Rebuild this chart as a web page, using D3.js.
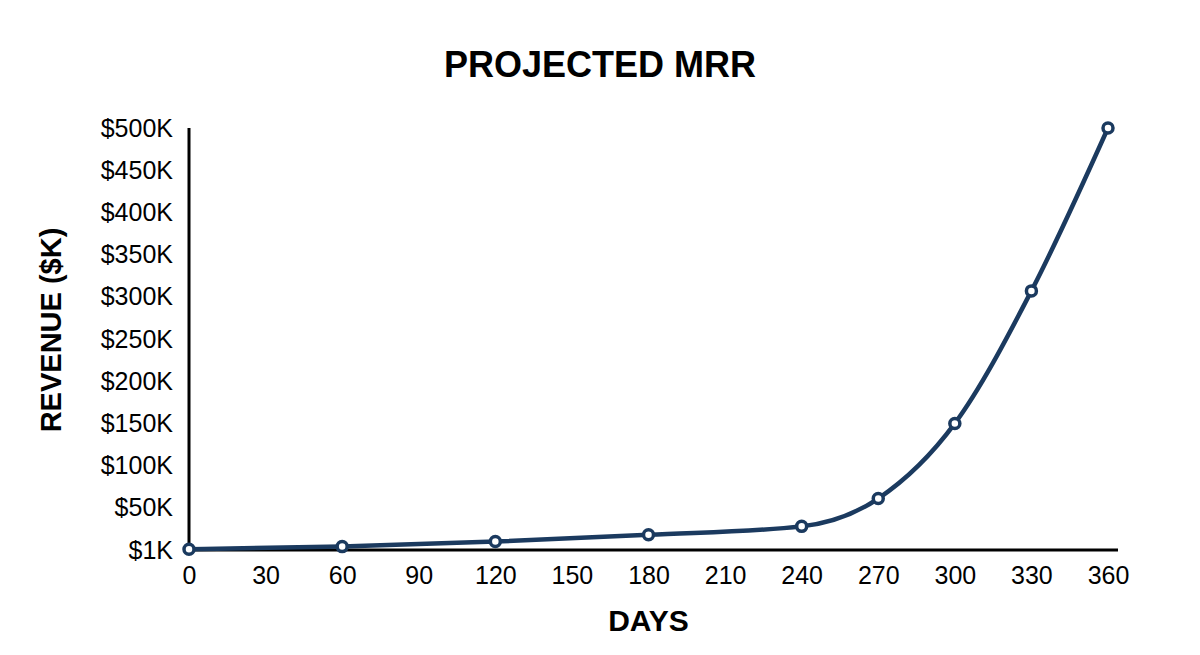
<!DOCTYPE html>
<html>
<head>
<meta charset="utf-8">
<script src="https://cdn.jsdelivr.net/npm/d3@7"></script>
<style>
  body { margin: 0; background: #fff; }
  text { font-family: "Liberation Sans", Arial, Helvetica, sans-serif; fill: #000; }
</style>
</head>
<body>
<div id="chart"></div>
<script>
const days = [0, 60, 120, 180, 240, 270, 300, 330, 360];
const revenue = [1, 4, 10, 18, 28, 61, 150, 307, 500]; // $K

const xTicks = [0, 30, 60, 90, 120, 150, 180, 210, 240, 270, 300, 330, 360];
const yTicks = [0, 50, 100, 150, 200, 250, 300, 350, 400, 450, 500];
const yTickLabels = ["$1K", "$50K", "$100K", "$150K", "$200K", "$250K", "$300K", "$350K", "$400K", "$450K", "$500K"];

const W = 1200, H = 655;
const margin = {top: 128, right: 92, bottom: 105, left: 189};
const width = 1108 - margin.left;
const height = H - margin.top - margin.bottom;

const svg = d3.select("#chart")
    .append("svg")
    .attr("width", W)
    .attr("height", H);

const g = svg.append("g")
    .attr("transform", `translate(${margin.left},${margin.top})`);

const x = d3.scaleLinear().domain([0, 360]).range([0, width]);
const y = d3.scaleLinear().domain([0, 500]).range([height, 0]);

// axes
const xAxis = g.append("g")
    .attr("transform", `translate(0,${height})`)
    .call(d3.axisBottom(x).tickValues(xTicks).tickSize(0).tickPadding(16));
xAxis.select(".domain").remove();
xAxis.selectAll("text").style("font-size", "25px").attr("fill", "#000");

g.append("line")
    .attr("x1", 0).attr("x2", width + 10)
    .attr("y1", height).attr("y2", height)
    .attr("stroke", "#000").attr("stroke-width", 3);

const yAxis = g.append("g")
    .call(d3.axisLeft(y).tickValues(yTicks).tickSize(0).tickPadding(16)
        .tickFormat((d, i) => yTickLabels[i]));
yAxis.select(".domain").remove();
yAxis.selectAll("text").style("font-size", "25px").attr("fill", "#000");

g.append("line")
    .attr("x1", 0).attr("x2", 0)
    .attr("y1", 0).attr("y2", height)
    .attr("stroke", "#000").attr("stroke-width", 3);

// titles
svg.append("text")
    .attr("x", 600)
    .attr("y", 77)
    .attr("text-anchor", "middle")
    .style("font-size", "36px")
    .style("font-weight", "bold")
    .text("PROJECTED MRR");

svg.append("text")
    .attr("x", margin.left + width / 2)
    .attr("y", 631)
    .attr("text-anchor", "middle")
    .style("font-size", "30px")
    .style("font-weight", "bold")
    .text("DAYS");

svg.append("text")
    .attr("transform", "rotate(-90)")
    .attr("x", -330)
    .attr("y", 61)
    .attr("text-anchor", "middle")
    .style("font-size", "29px")
    .style("font-weight", "bold")
    .text("REVENUE ($K)");

// line + markers
const data = days.map((d, i) => ({day: d, value: revenue[i]}));

g.append("path")
    .datum(data)
    .attr("fill", "none")
    .attr("stroke", "#1b3a5f")
    .attr("stroke-width", 4.5)
    .attr("d", d3.line()
        .x(d => x(d.day))
        .y(d => y(d.value))
        .curve(d3.curveMonotoneX));

g.selectAll("circle")
    .data(data)
    .enter()
    .append("circle")
    .attr("cx", d => x(d.day))
    .attr("cy", d => y(d.value))
    .attr("r", 5)
    .attr("fill", "#fff")
    .attr("stroke", "#1b3a5f")
    .attr("stroke-width", 3.5);
</script>
</body>
</html>
